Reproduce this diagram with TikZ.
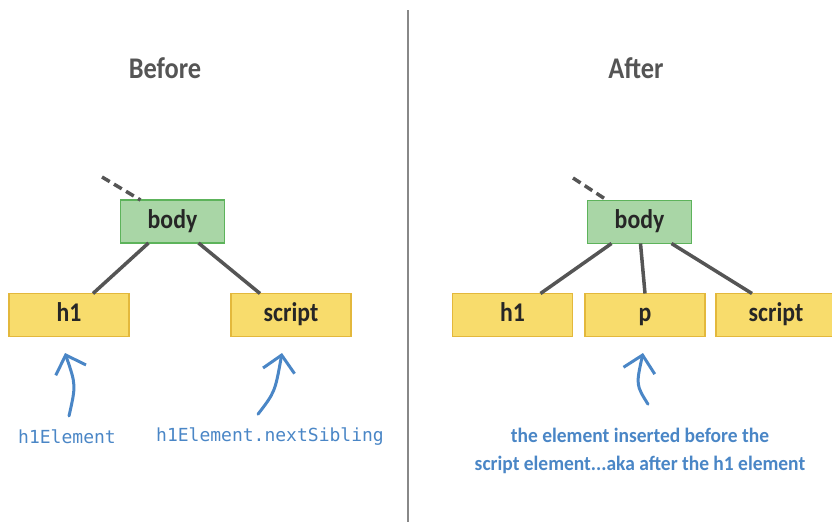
\documentclass[tikz,border=0pt]{standalone}
\usepackage{fontspec}
\setmainfont{Carlito}
\setmonofont{DejaVu Sans Mono}
\usetikzlibrary{positioning, arrows.meta}
\definecolor{domgreen}{HTML}{A9D6A6}
\definecolor{domgreenline}{HTML}{5DB35B}
\definecolor{domyellow}{HTML}{F8DC6C}
\definecolor{domyellowline}{HTML}{E3B83C}
\definecolor{domblue}{HTML}{4A86C6}
\definecolor{domgray}{HTML}{555555}
\newcommand{\narrow}[2][0.88]{\scalebox{#1}[1]{#2}}

\begin{document}
\begin{tikzpicture}[
      x=1pt, y=-1pt,
      every node/.style={inner sep=0pt, outer sep=0pt},
      elem/.style={draw=domyellowline, line width=1.5pt, fill=domyellow,
                   minimum width=120pt, minimum height=43pt,
                   text height=19pt, text depth=6pt,
                   font=\fontsize{27}{30}\selectfont\bfseries, text=black!85},
      bodybox/.style={elem, draw=domgreenline, fill=domgreen, minimum width=104pt},
      title/.style={font=\fontsize{30}{33}\selectfont\bfseries, text=domgray},
      note/.style={text=domblue, font=\fontsize{18}{21}\selectfont\ttfamily},
      link/.style={domgray, line width=3.5pt},
      pointer/.style={domblue, line width=3pt, line cap=round,
                      -{Straight Barb[length=16pt, width=32pt, line width=3pt]}},
    ]
    \useasboundingbox (0,0) rectangle (832,522);

    % divider
    \draw[domgray!70, line width=1.5pt] (408,10) -- (408,522);

    % Before
    \node[title] (before) at (165,68) {\narrow{Before}};
    \node[bodybox] (body1) at (172.5,221.5) {\narrow{body}};
    \node[elem] (h1a) at (69,315) {\narrow{h1}};
    \node[elem] (scripta) at (291,315) {\narrow{script}};
    \coordinate (up1) at (102,177);
    \draw[link, dash pattern=on 9pt off 5pt] (up1) -- ([xshift=20pt]body1.north west);
    \draw[link] ([xshift=-24pt]body1.south) -- ([xshift=24pt]h1a.north);
    \draw[link] ([xshift=26pt]body1.south) -- ([xshift=-31pt]scripta.north);

    \node[note] (h1note) at (67,437) {h1Element};
    \node[note] (nextnote) at (270,437) {h1Element.nextSibling};
    \draw[pointer] ([xshift=2pt, yshift=14pt]h1note.north) .. controls (76,385) .. (65,353);
    \draw[pointer] ([xshift=-12pt, yshift=14pt]nextnote.north) .. controls (275,392) .. (282,353);

    % After
    \node[title] (after) at (636,68) {\narrow{After}};
    \node[bodybox] (body2) at (639.5,222) {\narrow{body}};
    \node[elem] (h1b) at (512.5,315) {\narrow{h1}};
    \node[elem] (pb) at (645,315) {\narrow{p}};
    \node[elem] (scriptb) at (776,315) {\narrow{script}};
    \coordinate (up2) at (573,178);
    \draw[link, dash pattern=on 9pt off 5pt] (up2) -- ([xshift=20pt]body2.north west);
    \draw[link] ([xshift=-28pt]body2.south) -- ([xshift=28pt]h1b.north);
    \draw[link] ([xshift=1pt]body2.south) -- (pb.north);
    \draw[link] ([xshift=32pt]body2.south) -- ([xshift=-24pt]scriptb.north);

    \node[text=domblue, font=\fontsize{20.5}{28}\selectfont\bfseries, align=center]
      (insnote) at (640,451) {\narrow[0.95]{the element inserted before the}\\
                              \narrow[0.95]{script element...aka after the h1 element}};
    \draw[pointer] ([xshift=8pt, yshift=24pt]insnote.north) .. controls (636,385) .. (643,353);
  \end{tikzpicture}
\end{document}
